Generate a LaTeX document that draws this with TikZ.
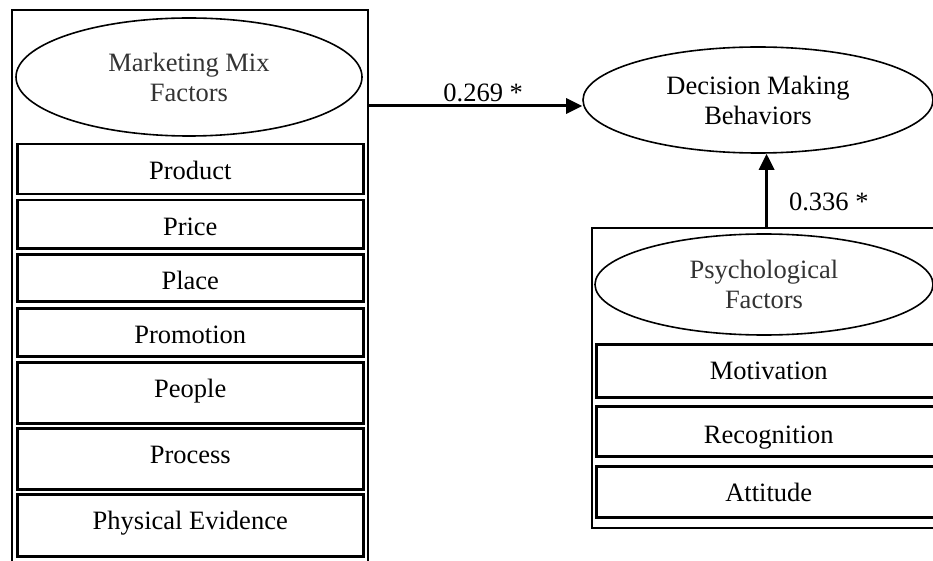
\documentclass[tikz,border=0pt]{standalone}
\usepackage{fontspec}
\setmainfont{Liberation Serif}
\usetikzlibrary{shapes.geometric,arrows.meta}
\begin{document}
\begin{tikzpicture}[x=1pt,y=-1pt,
  font=\fontsize{26.5}{30}\selectfont,
  container/.style={draw, line width=2.2pt, inner sep=0pt, anchor=north west},
  item/.style={draw, line width=2.5pt, inner sep=0pt, anchor=north west, text height=35pt},
  factor/.style={draw, ellipse, line width=1.6pt, inner sep=0pt, align=center},
  arr/.style={line width=3pt, -{Triangle[length=16pt,width=15pt]}},
  coef/.style={inner sep=0pt},
]
\useasboundingbox (0,0) rectangle (933,561);
\clip (0,0) rectangle (933,561);

% marketing mix block (open at the bottom of the page)
\node[container, minimum width=356pt, minimum height=600pt] (mmbox) at (11,9) {};
\node[factor, text=black!80, minimum width=346pt, minimum height=118pt] (mm) at (189,77) {Marketing Mix\\Factors};
\node[item, minimum width=346pt, text depth=15pt] (product)   at (16,143) {Product};
\node[item, minimum width=346pt, text depth=13pt] (price)     at (16,199) {Price};
\node[item, minimum width=346pt, text depth=12pt] (place)     at (16,253) {Place};
\node[item, minimum width=346pt, text depth=13pt] (promotion) at (16,307) {Promotion};
\node[item, minimum width=346pt, text depth=26pt] (people)    at (16,361) {People};
\node[item, minimum width=346pt, text depth=26pt] (process)   at (16,427) {Process};
\node[item, minimum width=346pt, text depth=27pt] (evidence)  at (16,493) {Physical Evidence};

% outcome
\node[factor, minimum width=350pt, minimum height=106pt] (dec) at (758,100) {Decision Making\\Behaviors};

% psychological block
\node[container, minimum width=349pt, minimum height=300pt] (psbox) at (591,227) {};
\node[factor, text=black!80, minimum width=338pt, minimum height=101pt] (psy) at (764,284.5) {Psychological\\Factors};
\node[item, minimum width=345pt, text depth=18pt] (motivation)  at (595,343) {Motivation};
\node[item, minimum width=345pt, text height=37pt, text depth=13pt] (recognition) at (595,405) {Recognition};
\node[item, minimum width=345pt, text depth=16pt] (attitude)    at (595,465) {Attitude};

% paths
\coordinate (ay) at (0,106);
\draw[arr] (mmbox.east |- ay) -- node[coef, anchor=base, pos=0.535, yshift=4pt] {0.269 *} (dec.west |- ay);
\draw[arr] (psbox.north) -- node[coef, anchor=base west, pos=0.23, xshift=21pt] {0.336 *} (psbox.north |- dec.south);
\end{tikzpicture}
\end{document}
